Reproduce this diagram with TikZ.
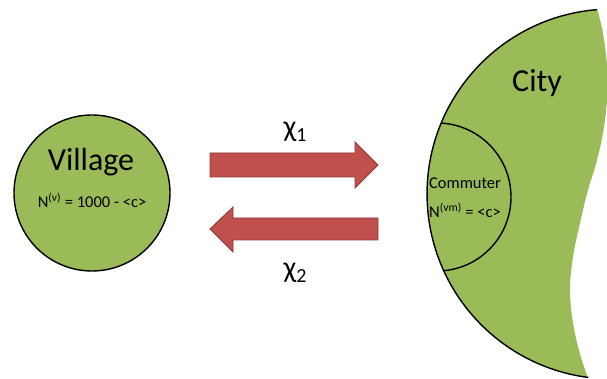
\documentclass[tikz,border=0pt]{standalone}
\usepackage{fontspec}
\setmainfont{Carlito}
\definecolor{leaf}{HTML}{9BBB59}
\definecolor{brick}{HTML}{C0504D}
\definecolor{brickdark}{HTML}{8C3836}
\tikzset{
  region/.style={fill=leaf, draw=black, line width=1.4pt},
  flow/.style={fill=brick, draw=brickdark, line width=0.8pt, line join=miter},
  big/.style={font=\fontsize{32}{36}\selectfont, inner sep=0pt},
  small/.style={font=\fontsize{16.5}{19}\selectfont, inner sep=0pt},
  chi/.style={font=\fontsize{30}{34}\selectfont, inner sep=0pt}
}
\newcommand{\chisub}[1]{χ\raisebox{-0.35ex}{\fontsize{20}{24}\selectfont #1}}
\begin{document}
\begin{tikzpicture}[x=1pt,y=1pt]
\useasboundingbox (0,0) rectangle (607,379);
% Village
\node[region, circle, minimum size=156pt] (village) at (92,186) {};
\node[big] (vtitle) at (91,217) {Village};
\node[small] (vpop) at (92,179) {N\textsuperscript{(v)} = 1000 - <c>};
% City
\fill[leaf] (597.2,369.4) arc[start angle=94.6, end angle=262.6, radius=185]
  -- plot[smooth, tension=0.6] coordinates {(588,1) (580,25) (573,56) (570,89) (573,122) (580,156) (588,189) (596,215) (603,246) (607,279) (607,312) (603,346) (597.2,369.4)} -- cycle;
\draw[line width=1.4pt] (597.2,369.4) arc[start angle=94.6, end angle=262.6, radius=185];
\begin{scope}
  \clip (612,185) circle (185);
  \draw[line width=1.4pt] (437,182) circle (74);
\end{scope}
\node[big] (ctitle) at (537,296) {City};
\node[small] (comm) at (465,196) {Commuter};
\node[small] (cpop) at (465,169) {N\textsuperscript{(vm)} = <c>};
% Flows
\draw[flow] (210,226) -- (355,226) -- (355,237) -- (378,214) -- (355,191) -- (355,202) -- (210,202) -- cycle;
\draw[flow] (378,161) -- (233,161) -- (233,172) -- (210,150) -- (233,127) -- (233,139) -- (378,139) -- cycle;
\node[chi] (chione) at (295,247) {\chisub{1}};
\node[chi] (chitwo) at (295,106) {\chisub{2}};
\end{tikzpicture}
\end{document}
